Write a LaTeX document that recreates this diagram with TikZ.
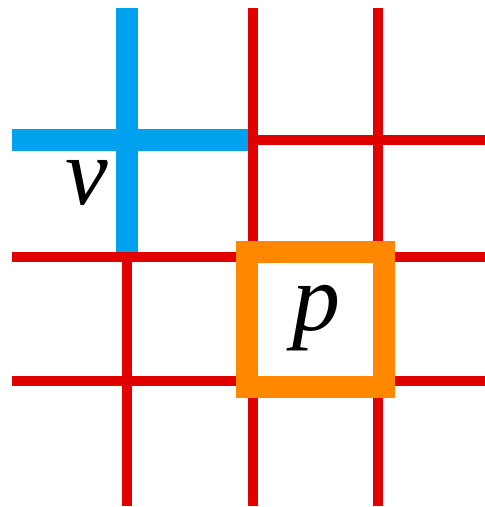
\documentclass[tikz,border=0pt]{standalone}
\usepackage{fontspec}
\setmainfont{Liberation Serif}
\usepackage{tikz}
\usetikzlibrary{positioning}

\definecolor{gridred}{RGB}{224,0,0}
\definecolor{crossblue}{RGB}{0,162,240}
\definecolor{boxorange}{RGB}{255,136,0}

\tikzset{
  gridline/.style={draw=gridred,line width=10pt},
  crossline/.style={draw=crossblue,line width=22pt},
  pixbox/.style={draw=boxorange,line width=22pt,miter limit=10},
  biglabel/.style={font=\fontsize{96}{96}\selectfont\itshape,inner sep=0pt}
}

\begin{document}
\begin{tikzpicture}[x=1pt,y=-1pt]
\useasboundingbox (0,0) rectangle (485,507);
% the cross at v
\draw[crossline] (127,8) -- (127,252);
\draw[crossline] (12,140) -- (248,140);
% red grid
\draw[gridline] (253,8) -- (253,506);
\draw[gridline] (378,8) -- (378,506);
\draw[gridline] (127,252) -- (127,506);
\draw[gridline] (248,140) -- (485,140);
\draw[gridline] (12,257) -- (485,257);
\draw[gridline] (12,381) -- (485,381);
% the pixel p
\draw[pixbox] (247,252) rectangle (383.5,386.5);
\node[biglabel] (v) at (87,183) {v};
\node[biglabel] (p) at (316,318) {p};
\end{tikzpicture}
\end{document}
